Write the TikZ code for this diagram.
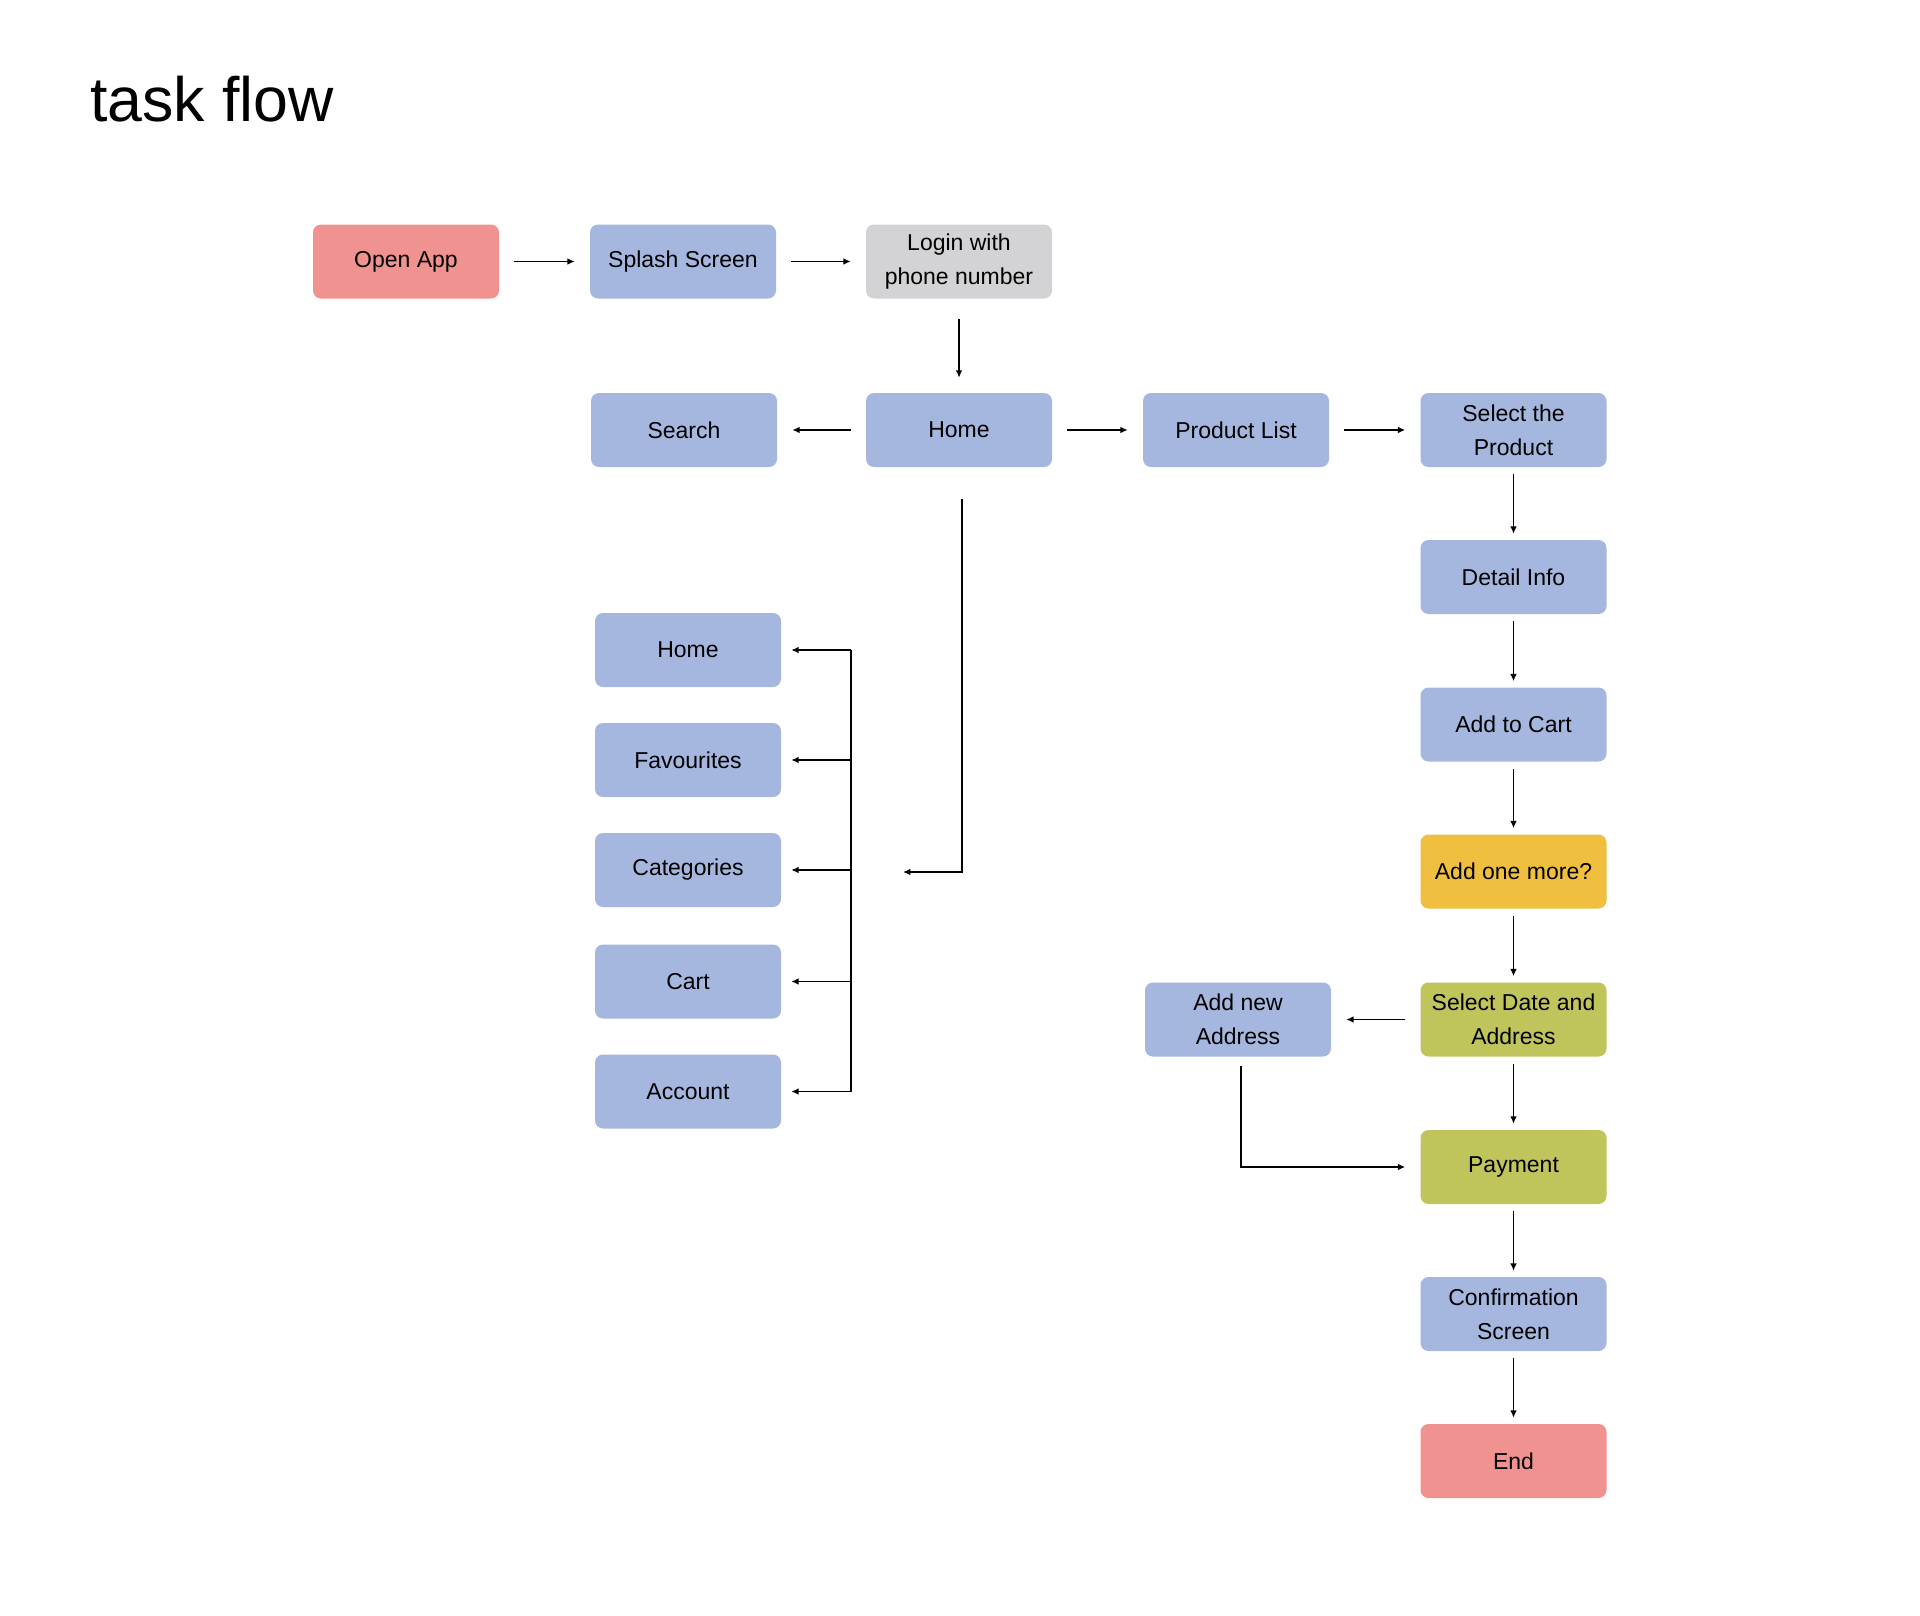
\documentclass[tikz,border=0pt]{standalone}
\usepackage{fontspec}
\setmainfont{Liberation Sans}
\usetikzlibrary{arrows.meta}

\definecolor{salmon}{RGB}{240,146,143}
\definecolor{steel}{RGB}{165,183,222}
\definecolor{ash}{RGB}{211,211,213}
\definecolor{mustard}{RGB}{240,191,63}
\definecolor{olive}{RGB}{191,196,91}

\tikzset{
  box/.style={rounded corners=6pt, minimum width=139.5pt, minimum height=55.5pt, inner sep=0pt, align=center, font=\fontsize{17.25}{25.5}\selectfont},
  flow/.style={line width=1.35pt, -{Latex[length=5.5pt,width=5pt]}},
  hflow/.style={flow, shorten <=11.25pt, shorten >=11.25pt},
  vflow/.style={flow, shorten <=5.25pt, shorten >=4.5pt}
}

\begin{document}
\begin{tikzpicture}[x=0.75pt,y=0.75pt,yscale=-1,xscale=1]
\useasboundingbox (0,0) rectangle (1920,1616); %page of 1920 x 1616

% Title
\node[anchor=base west, inner sep=0pt, font=\fontsize{47}{50}\selectfont] (title) at (90,122) {task flow};

%Shape: Rounded Rectangles, top rows
\node[box, fill=salmon] (open) at (406,261.5) {Open App};
\node[box, fill=steel] (splash) at (683,261.5) {Splash Screen};
\node[box, fill=ash] (login) at (959,261.5) {Login with\\phone number};
\node[box, fill=steel] (search) at (684,430) {Search};
\node[box, fill=steel] (home) at (959,430) {Home};
\node[box, fill=steel] (plist) at (1236,430) {Product List};

%Shape: Rounded Rectangles, right column
\node[box, fill=steel] (selprod) at (1513.5,430) {Select the\\Product};
\node[box, fill=steel] (detail) at (1513.5,577) {Detail Info};
\node[box, fill=steel] (addcart) at (1513.5,724.5) {Add to Cart};
\node[box, fill=mustard] (onemore) at (1513.5,871.5) {Add one more?};
\node[box, fill=olive] (seldate) at (1513.5,1019.5) {Select Date and\\Address};
\node[box, fill=olive] (payment) at (1513.5,1167) {Payment};
\node[box, fill=steel] (confirm) at (1513.5,1314) {Confirmation\\Screen};
\node[box, fill=salmon] (theend) at (1513.5,1461) {End};
\node[box, fill=steel] (newaddr) at (1238,1019.5) {Add new\\Address};

%Shape: Rounded Rectangles, menu
\node[box, fill=steel] (mhome) at (688,650) {Home};
\node[box, fill=steel] (mfav) at (688,760) {Favourites};
\node[box, fill=steel] (mcat) at (688,870) {Categories};
\node[box, fill=steel] (mcart) at (688,981.5) {Cart};
\node[box, fill=steel] (maccount) at (688,1091.5) {Account};

\coordinate (bar) at (851,650);
\coordinate (menu) at (903,872);

%Straight Lines
\draw[hflow] (open) -- (splash);
\draw[hflow] (splash) -- (login);
\draw[flow, shorten <=15pt, shorten >=11.25pt] (login) -- (home);
\draw[hflow] (home) -- (search);
\draw[hflow] (home) -- (plist);
\draw[hflow] (plist) -- (selprod);
\draw[vflow] (selprod) -- (detail);
\draw[vflow] (detail) -- (addcart);
\draw[vflow] (addcart) -- (onemore);
\draw[vflow] (onemore) -- (seldate);
\draw[vflow] (seldate) -- (payment);
\draw[vflow] (payment) -- (confirm);
\draw[vflow] (confirm) -- (theend);
\draw[hflow] (seldate) -- (newaddr);
\draw[flow, shorten <=6.75pt, shorten >=11.25pt] ([xshift=2.5pt]newaddr.south) |- (payment.west);
\draw[flow, shorten <=24pt] ([xshift=2pt]home.south) |- (menu);

%Straight Lines, menu bracket
\draw[line width=1.35pt] (bar |- mhome.east) -- (bar |- maccount.east);
\draw[flow, shorten >=7.5pt] (bar |- mhome.east) -- (mhome.east);
\draw[flow, shorten >=7.5pt] (bar |- mfav.east) -- (mfav.east);
\draw[flow, shorten >=7.5pt] (bar |- mcat.east) -- (mcat.east);
\draw[flow, shorten >=7.5pt] (bar |- mcart.east) -- (mcart.east);
\draw[flow, shorten >=7.5pt] (bar |- maccount.east) -- (maccount.east);

\end{tikzpicture}
\end{document}
